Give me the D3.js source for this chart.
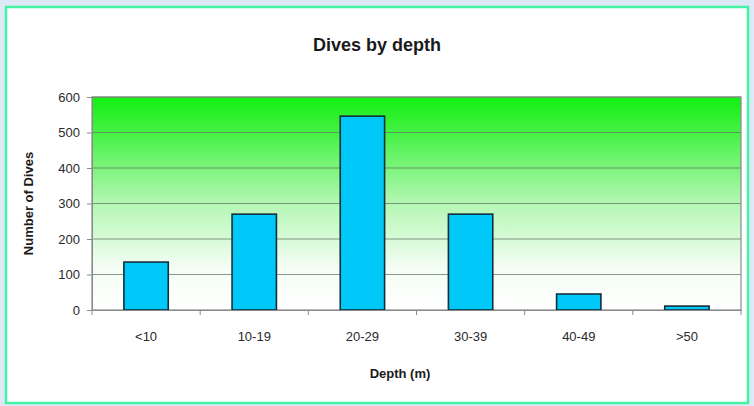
<!DOCTYPE html>
<html>
<head>
<meta charset="utf-8">
<script src="https://cdn.jsdelivr.net/npm/d3@7"></script>
<style>
  html, body { margin: 0; padding: 0; background: #dde9f6; }
  svg { display: block; font-family: "Liberation Sans", Arial, sans-serif; }
</style>
</head>
<body>
<svg id="chart" width="754" height="406"></svg>
<script>
// Dive counts per depth band
const categories = ["<10", "10-19", "20-29", "30-39", "40-49", ">50"];
const dives = [135, 270, 546, 270, 45, 11];
const yTicks = [0, 100, 200, 300, 400, 500, 600];

const svg = d3.select("#chart");
const W = 754, H = 406;
const m = { left: 92, right: 13, top: 97, bottom: 96 };
const pw = W - m.left - m.right, ph = H - m.top - m.bottom;

// outer frame
svg.append("rect").attr("width", W).attr("height", H).attr("fill", "#dde9f6");
svg.append("rect").attr("x", 6).attr("y", 7).attr("width", 742).attr("height", 396)
  .attr("fill", "#ffffff").attr("stroke", "#44f2a6").attr("stroke-width", 2.5);

const defs = svg.append("defs");
const grad = defs.append("linearGradient").attr("id", "bg").attr("x1", 0).attr("y1", 0).attr("x2", 0).attr("y2", 1);
grad.append("stop").attr("offset", "0%").attr("stop-color", "#12ef12");
grad.append("stop").attr("offset", "20%").attr("stop-color", "#4ff24f");
grad.append("stop").attr("offset", "50%").attr("stop-color", "#b4f7b4");
grad.append("stop").attr("offset", "80%").attr("stop-color", "#f4fdf4");
grad.append("stop").attr("offset", "100%").attr("stop-color", "#ffffff");

const x = d3.scaleBand().domain(categories).range([0, pw]).paddingInner(0.59).paddingOuter(0.295);
const y = d3.scaleLinear().domain([0, 600]).range([ph, 0]);

const g = svg.append("g").attr("transform", `translate(${m.left},${m.top})`);

g.append("rect").attr("width", pw).attr("height", ph).attr("fill", "url(#bg)");

// horizontal gridlines
g.selectAll("line.grid").data(yTicks.filter(d => d > 0)).join("line")
  .attr("class", "grid")
  .attr("x1", 0).attr("x2", pw)
  .attr("y1", d => y(d)).attr("y2", d => y(d))
  .attr("stroke", "#5f7a5f").attr("stroke-opacity", 0.75).attr("stroke-width", 1.2);

// plot border
g.append("rect").attr("width", pw).attr("height", ph)
  .attr("fill", "none").attr("stroke", "#8a8a8a").attr("stroke-width", 1.2);

// bars
g.selectAll("rect.bar").data(dives).join("rect")
  .attr("class", "bar")
  .attr("x", (d, i) => x(categories[i]))
  .attr("width", x.bandwidth())
  .attr("y", d => y(d))
  .attr("height", d => ph - y(d))
  .attr("fill", "#00c8f8")
  .attr("stroke", "#0f2f3a").attr("stroke-width", 1.6);

// y axis
const yAxis = g.append("g").call(d3.axisLeft(y).tickValues(yTicks).tickSize(5).tickPadding(7));
yAxis.select(".domain").attr("stroke", "#8a8a8a");
yAxis.selectAll(".tick line").attr("stroke", "#8a8a8a");
yAxis.selectAll("text").attr("font-size", 13).attr("fill", "#2a2a2a");

// x axis with ticks at band boundaries
const xAxis = g.append("g").attr("transform", `translate(0,${ph})`)
  .call(d3.axisBottom(x).tickSize(0).tickPadding(22));
xAxis.select(".domain").attr("stroke", "#8a8a8a");
xAxis.selectAll("text").attr("font-size", 13).attr("fill", "#2a2a2a");
const step = x.step();
g.selectAll("line.xt").data(d3.range(categories.length + 1)).join("line")
  .attr("class", "xt")
  .attr("x1", i => i * step).attr("x2", i => i * step)
  .attr("y1", ph).attr("y2", ph + 5)
  .attr("stroke", "#8a8a8a");

// titles
svg.append("text").attr("x", 377).attr("y", 51).attr("text-anchor", "middle")
  .attr("font-size", 18).attr("font-weight", "bold").attr("fill", "#1a1a1a").text("Dives by depth");
svg.append("text").attr("x", 400).attr("y", 378).attr("text-anchor", "middle")
  .attr("font-size", 13).attr("font-weight", "bold").attr("fill", "#1a1a1a").text("Depth (m)");
svg.append("text").attr("transform", `translate(33,${m.top + ph / 2}) rotate(-90)`)
  .attr("text-anchor", "middle")
  .attr("font-size", 13).attr("font-weight", "bold").attr("fill", "#1a1a1a").text("Number of Dives");
</script>
</body>
</html>
